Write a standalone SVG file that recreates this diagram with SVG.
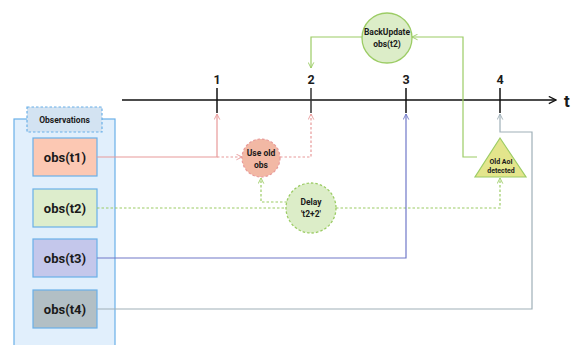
<svg xmlns="http://www.w3.org/2000/svg" width="574" height="345" viewBox="0 0 574 345">
<style>
text{font-family:Roboto,"Liberation Sans",sans-serif;font-weight:bold;fill:#1a1a1a;text-anchor:middle}
.obs{stroke:#6ab0e8;stroke-width:1.2}
.obs-t{font-size:13px}
.num{font-size:12.5px}
.small{font-size:8px}
.c{fill:none;stroke-width:1.2}
.dot{stroke-dasharray:2.5 2}
</style>
<defs>
<marker id="aR" viewBox="0 0 10 10" refX="9" refY="5" markerWidth="7" markerHeight="7" orient="auto-start-reverse" markerUnits="userSpaceOnUse"><polyline points="1,1 9,5 1,9" fill="none" stroke="#e89a9a" stroke-width="1.3"/></marker>
<marker id="aG" viewBox="0 0 10 10" refX="9" refY="5" markerWidth="7" markerHeight="7" orient="auto-start-reverse" markerUnits="userSpaceOnUse"><polyline points="1,1 9,5 1,9" fill="none" stroke="#9ccc65" stroke-width="1.3"/></marker>
<marker id="aB" viewBox="0 0 10 10" refX="9" refY="5" markerWidth="7" markerHeight="7" orient="auto-start-reverse" markerUnits="userSpaceOnUse"><polyline points="1,1 9,5 1,9" fill="none" stroke="#7078c8" stroke-width="1.3"/></marker>
<marker id="aS" viewBox="0 0 10 10" refX="9" refY="5" markerWidth="7" markerHeight="7" orient="auto-start-reverse" markerUnits="userSpaceOnUse"><polyline points="1,1 9,5 1,9" fill="none" stroke="#9fb0b8" stroke-width="1.3"/></marker>
<marker id="aK" viewBox="0 0 10 10" refX="9" refY="5" markerWidth="9" markerHeight="9" orient="auto" markerUnits="userSpaceOnUse"><polyline points="1,1 9,5 1,9" fill="none" stroke="#111" stroke-width="1.4"/></marker>
</defs>

<g id="timeline">
<line x1="122" y1="100" x2="556" y2="100" stroke="#111" stroke-width="1.5" marker-end="url(#aK)"/>
<text x="567" y="107" style="font-size:17px">t</text>
<line x1="217" y1="88" x2="217" y2="113" stroke="#111" stroke-width="1.5"/>
<line x1="311" y1="88" x2="311" y2="113" stroke="#333" stroke-width="1.5"/>
<line x1="406" y1="88" x2="406" y2="113" stroke="#111" stroke-width="1.5"/>
<line x1="500" y1="88" x2="500" y2="113" stroke="#111" stroke-width="1.5"/>
<text class="num" x="217" y="84">1</text>
<text class="num" x="311" y="84">2</text>
<text class="num" x="406" y="84">3</text>
<text class="num" x="500" y="84">4</text>
</g>

<g id="observations">
<rect x="14" y="119" width="101" height="230" fill="#e1effc" stroke="#6ab0e8" stroke-width="1.2"/>
<rect x="27" y="107" width="75" height="25" fill="#d3e3f2" stroke="#6ab0e8" stroke-width="1.2" stroke-dasharray="2.5 2"/>
<text class="small" x="64.5" y="123" style="font-size:8.5px">Observations</text>
</g>
<g id="obs1"><rect class="obs" x="33" y="138" width="64" height="38" fill="#fcc8b3"/><text class="obs-t" x="65" y="162">obs(t1)</text></g>
<g id="obs2"><rect class="obs" x="33" y="189" width="64" height="38" fill="#ddedcc"/><text class="obs-t" x="65" y="213">obs(t2)</text></g>
<g id="obs3"><rect class="obs" x="33" y="239" width="64" height="38" fill="#c4c7eb"/><text class="obs-t" x="65" y="263">obs(t3)</text></g>
<g id="obs4"><rect class="obs" x="33" y="290" width="64" height="38" fill="#b2bfc5"/><text class="obs-t" x="65" y="314">obs(t4)</text></g>

<g id="connectors">
<polyline class="c" stroke="#e89a9a" points="97,157 217,157 217,114" marker-end="url(#aR)"/>
<polyline class="c dot" stroke="#e89a9a" points="217,157 242,157" marker-end="url(#aR)"/>
<polyline class="c dot" stroke="#e89a9a" points="280,157 311,157 311,114" marker-end="url(#aR)"/>
<polyline class="c dot" stroke="#9ccc65" points="97,208 286,208"/>
<polyline class="c dot" stroke="#9ccc65" points="287,202 261,202 261,178" marker-end="url(#aG)"/>
<polyline class="c dot" stroke="#9ccc65" points="336,208 500,208 500,178" marker-end="url(#aG)"/>
<polyline class="c" stroke="#7078c8" points="97,258 406,258 406,114" marker-end="url(#aB)"/>
<polyline class="c" stroke="#9fb0b8" points="97,309 532,309 532,132 500,132 500,114" marker-end="url(#aS)"/>
<polyline class="c" stroke="#9ccc65" points="477,157 463,157 463,37 412,37" marker-end="url(#aG)"/>
<polyline class="c" stroke="#9ccc65" points="363,37 311,37 311,68" marker-end="url(#aG)"/>
</g>

<g id="use-old-obs">
<circle cx="261" cy="158" r="19" fill="#f2b8a4" stroke="#e89a9a" stroke-width="1.2" stroke-dasharray="2.5 2"/>
<text class="small" x="261" y="156" style="font-size:8.5px">Use old</text>
<text class="small" x="261" y="168" style="font-size:8.5px">obs</text>
</g>
<g id="delay">
<circle cx="311" cy="208" r="25" fill="#dcedc8" stroke="#9ccc65" stroke-width="1.3" stroke-dasharray="2.5 2"/>
<text class="small" x="311" y="205" style="font-size:8.5px">Delay</text>
<text class="small" x="311" y="217" style="font-size:8.5px">'t2+2'</text>
</g>
<g id="backupdate">
<circle cx="387" cy="38" r="25" fill="#dcedc8" stroke="#9ccc65" stroke-width="1.3"/>
<text class="small" x="387" y="35" style="font-size:8.5px">BackUpdate</text>
<text class="small" x="387" y="47" style="font-size:8.5px">obs(t2)</text>
</g>
<g id="old-aoi">
<polygon points="500,138 526,177 475,177" fill="#e3e58c" stroke="#9ccc65" stroke-width="1.2"/>
<text class="small" x="501" y="164" style="font-size:7px">Old AoI</text>
<text class="small" x="501" y="173" style="font-size:7px">detected</text>
</g>
</svg>
